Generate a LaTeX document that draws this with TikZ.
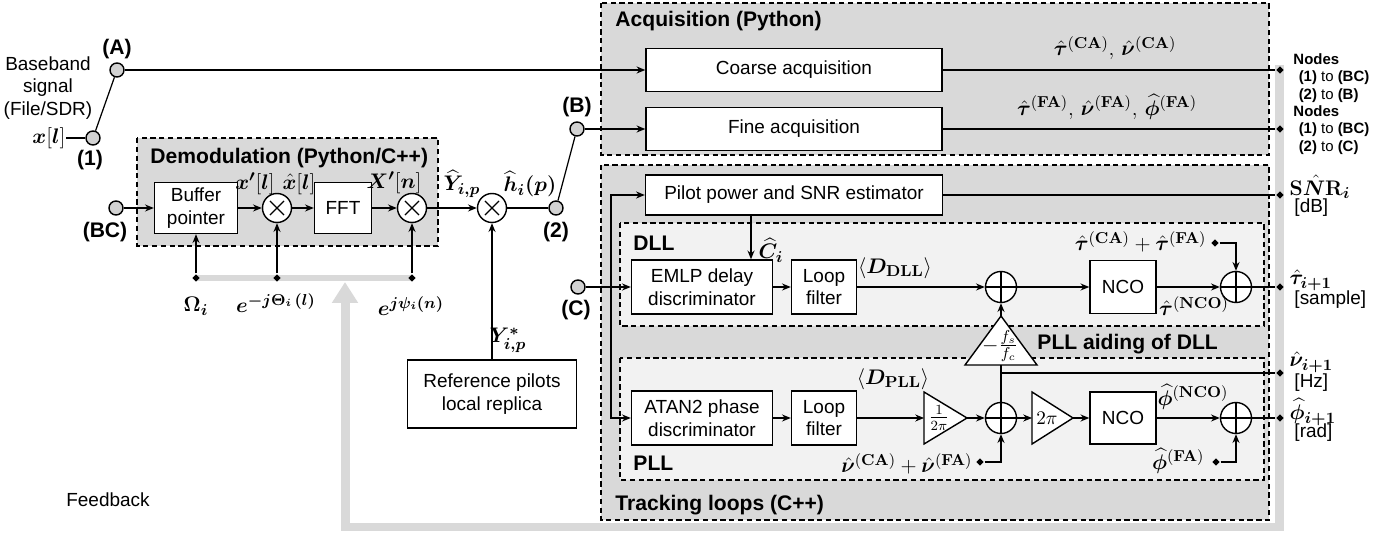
\documentclass[tikz,border=0pt]{standalone}
\usepackage[no-math]{fontspec}
\setmainfont{Liberation Sans}
\usepackage{amsmath}
\usepackage{bm}
\usetikzlibrary{arrows.meta}
\usetikzlibrary{shapes.geometric}

\begin{document}
\begin{tikzpicture}[x=0.02cm, y=-0.02cm,
  font=\fontsize{10.8}{13}\selectfont, line width=0.7pt,
  >={Stealth[length=5pt,width=4pt]},
  blk/.style={draw, fill=white, align=center, inner sep=1pt, line width=0.8pt},
  grp/.style={draw, dash pattern=on 3pt off 2pt, line width=0.6pt},
  port/.style={circle, draw, fill=gray!35, minimum size=0.28cm, inner sep=0pt, line width=0.8pt},
  mult/.style={circle, draw, fill=white, minimum size=0.58cm, inner sep=0pt, line width=0.8pt,
    path picture={\draw[line width=0.7pt]
      ([shift={(-4pt,-4pt)}]path picture bounding box.center) -- ([shift={(4pt,4pt)}]path picture bounding box.center)
      ([shift={(-4pt,4pt)}]path picture bounding box.center) -- ([shift={(4pt,-4pt)}]path picture bounding box.center);}},
  summ/.style={circle, draw, fill=white, minimum size=0.62cm, inner sep=0pt, line width=0.8pt,
    path picture={\draw[line width=0.7pt]
      (path picture bounding box.north) -- (path picture bounding box.south)
      (path picture bounding box.west) -- (path picture bounding box.east);}},
  tip/.style={diamond, fill=black, inner sep=0pt, minimum size=4.5pt},
  lbl/.style={font=\fontsize{12}{14}\selectfont\bfseries},
  mth/.style={font=\fontsize{12.5}{15}\selectfont, inner sep=0pt},
  fb/.style={draw=gray!30, line width=0.18cm}
]
\useasboundingbox (0,0) rectangle (1387,533);

% group boxes
\draw[grp, fill=gray!30] (601,3) rectangle (1269,155);
\draw[grp, fill=gray!30] (601,165) rectangle (1269,520);
\draw[grp, fill=gray!10] (620,223) rectangle (1264,326);
\draw[grp, fill=gray!10] (620,358) rectangle (1264,480);
\draw[grp, fill=gray!30] (137,138) rectangle (438,246);
\node[lbl, anchor=west] (tAcq) at (609,21) {Acquisition (Python)};
\node[lbl, anchor=west] (tTrk) at (609,505) {Tracking loops (C++)};
\node[lbl, anchor=west] (tDll) at (627,243) {DLL};
\node[lbl, anchor=west] (tPll) at (627,463) {PLL};
\node[lbl, anchor=west] (tAid) at (1031,344) {PLL aiding of DLL};
\node[lbl, anchor=west] (tDem) at (144,158) {Demodulation (Python/C++)};

% feedback
\coordinate (fbA) at (1279,65);
\coordinate (fbB) at (1279,527);
\coordinate (fbC) at (345,527);
\coordinate (fbD) at (345,282);
\coordinate (fbL) at (196,278);
\coordinate (fbR) at (412,278);
\draw[fb, -{Triangle[length=0.42cm,width=0.5cm]}] (fbA) -- (fbB) -- (fbC) -- (fbD);
\draw[draw=gray!30, line width=0.12cm] (fbL) -- (fbR);
\node (tFb) at (108,500) {Feedback};

% input switch
\node[align=center] (bb) at (48,88) {Baseband\\signal\\(File/SDR)};
\node[mth, anchor=east] (xl) at (66,138) {$\bm{x}[\bm{l}]$};
\node[port] (n1) at (93,138) {};
\node[lbl] (l1) at (90,160) {(1)};
\node[port] (nA) at (117,70) {};
\node[lbl] (lA) at (117,49) {(A)};

% demodulation
\node[port] (nBC) at (116,208) {};
\node[lbl] (lBC) at (105,232) {(BC)};
\node[blk, minimum width=1.66cm, minimum height=1.02cm] (buf) at (196,208) {Buffer\\pointer};
\node[mult] (m1) at (277,208) {};
\node[blk, minimum width=1.14cm, minimum height=1.02cm] (fft) at (343,208) {FFT};
\node[mult] (m2) at (412,208) {};
\node[mult] (m3) at (492,208) {};
\node[port] (n2) at (556,208) {};
\node[lbl] (l2) at (556,232) {(2)};
\node[port] (nB) at (577,129) {};
\node[lbl] (lB) at (577,107) {(B)};
\node[blk, minimum width=3.38cm, minimum height=1.36cm] (ref) at (492,394) {Reference pilots\\local replica};
\node[tip] (dOm) at (fbL) {};
\node[tip] (dTh) at (277,278) {};
\node[tip] (dPsi) at (fbR) {};

% acquisition
\node[blk, minimum width=5.92cm, minimum height=0.86cm] (coarse) at (794,70) {Coarse acquisition};
\node[blk, minimum width=5.92cm, minimum height=0.86cm] (fine) at (794,129) {Fine acquisition};

% tracking
\node[blk, minimum width=5.94cm, minimum height=0.8cm] (pilot) at (794,195) {Pilot power and SNR estimator};
\node[port] (nC) at (578,287) {};
\node[lbl] (lC) at (576,310) {(C)};
\node[blk, minimum width=2.82cm, minimum height=1.08cm] (emlp) at (702,287) {EMLP delay\\discriminator};
\node[blk, minimum width=1.3cm, minimum height=1.08cm] (lfd) at (824,287) {Loop\\filter};
\node[summ] (sd1) at (1001,287) {};
\node[blk, minimum width=1.32cm, minimum height=1.06cm] (ncod) at (1123,287) {NCO};
\node[summ] (sd2) at (1236,287) {};
\node[blk, minimum width=2.82cm, minimum height=1.08cm] (atan) at (702,418) {ATAN2 phase\\discriminator};
\node[blk, minimum width=1.3cm, minimum height=1.08cm] (lfp) at (824,418) {Loop\\filter};
\node[summ] (sp1) at (1001,418) {};
\node[blk, minimum width=1.32cm, minimum height=1.04cm] (ncop) at (1123,418) {NCO};
\node[summ] (sp2) at (1236,418) {};

% gains
\coordinate (aTop) at (1001,316);
\coordinate (aBase) at (1001,365);
\coordinate (cNu) at (1001,373);
\draw[fill=white, line width=0.8pt] (aTop) -- (1037,365) -- (965,365) -- cycle;
\node[font=\fontsize{13}{15}\selectfont] (gA) at (1000,346) {$-\frac{f_s}{f_c}$};
\coordinate (bIn) at (924,418);
\coordinate (bOut) at (967,418);
\draw[fill=white, line width=0.8pt] (924,392) -- (bOut) -- (924,444) -- cycle;
\node[font=\fontsize{12}{14}\selectfont] (gB) at (939,418) {$\frac{1}{2\pi}$};
\coordinate (cIn) at (1032,418);
\coordinate (cOut) at (1073,418);
\draw[fill=white, line width=0.8pt] (1032,392) -- (cOut) -- (1032,444) -- cycle;
\node[font=\fontsize{10.5}{12}\selectfont] (gC) at (1047,418) {$2\pi$};

% end points
\node[tip] (dCA) at (1280,70) {};
\node[tip] (dFA) at (1280,129) {};
\node[tip] (dSNR) at (1280,195) {};
\node[tip] (dTau) at (1280,287) {};
\node[tip] (dNu) at (1280,373) {};
\node[tip] (dPhi) at (1280,418) {};
\node[tip] (dTauIn) at (1215,243) {};
\node[tip] (dPhiIn) at (1216,462) {};
\node[tip] (dNuIn) at (980,462) {};

% connectors
\draw (xl) -- (n1);
\draw (n1) -- (nA);
\draw[->] (nA) -- (coarse);
\draw (n2) -- (nB);
\draw[->] (nB) -- (fine);
\draw[->] (nBC) -- (buf);
\draw[->] (buf) -- (m1);
\draw[->] (m1) -- (fft);
\draw[->] (fft) -- (m2);
\draw[->] (m2) -- (m3);
\draw (m3) -- (n2);
\draw[->] (ref) -- (m3);
\draw[->] (dOm) -- (buf);
\draw[->] (dTh) -- (m1);
\draw[->] (dPsi) -- (m2);
\draw (coarse) -- (dCA);
\draw (fine) -- (dFA);
\draw (pilot) -- (dSNR);
\coordinate (cSp) at (611,287);
\coordinate (cEst) at (751,0);
\draw[->] (nC) -- (emlp);
\draw[->] (cSp) |- (pilot);
\draw[->] (cSp) |- (atan);
\draw[->] (pilot.south -| cEst) -- (emlp.north -| cEst);
\draw[->] (emlp) -- (lfd);
\draw[->] (lfd) -- (sd1);
\draw[->] (sd1) -- (ncod);
\draw[->] (ncod) -- (sd2);
\draw (sd2) -- (dTau);
\draw[->] (dTauIn) -| (sd2);
\draw[->] (aTop) -- (sd1);
\draw (sp1) -- (aBase);
\draw (cNu) -- (dNu);
\draw[->] (atan) -- (lfp);
\draw[->] (lfp) -- (bIn);
\draw[->] (bOut) -- (sp1);
\draw[->] (sp1) -- (cIn);
\draw[->] (cOut) -- (ncop);
\draw[->] (ncop) -- (sp2);
\draw (sp2) -- (dPhi);
\draw[->] (dPhiIn) -| (sp2);
\draw[->] (dNuIn) -| (sp1);

% signal labels
\node[mth] (lxp) at (255,184) {$\bm{x'}[\bm{l}]$};
\node[mth] (lxh) at (299,184) {$\hat{\bm{x}}[\bm{l}]$};
\node[mth] (lXp) at (394,183) {$\bm{X'}[\bm{n}]$};
\node[mth] (lYh) at (462,184) {$\widehat{\bm{Y}}_{\bm{i,p}}$};
\node[mth] (lhh) at (530,184) {$\widehat{\bm{h}}_{\bm{i}}\bm{(p)}$};
\node[mth] (lYs) at (508,340) {$\bm{Y}^{\bm{*}}_{\bm{i,p}}$};
\node[mth] (lOm) at (196,306) {$\bm{\Omega}_{\bm{i}}$};
\node[mth] (lTh) at (276,303) {$\bm{e}^{\bm{-j\Theta_i}\,\bm{(l)}}$};
\node[mth] (lPsi) at (411,306) {$\bm{e}^{\bm{j\psi_i(n)}}$};
\node[mth] (lCA) at (1115,48) {$\hat{\bm{\tau}}^{(\mathbf{CA})},\,\hat{\bm{\nu}}^{(\mathbf{CA})}$};
\node[mth] (lFA) at (1107,107) {$\hat{\bm{\tau}}^{(\mathbf{FA})},\,\hat{\bm{\nu}}^{(\mathbf{FA})},\,\widehat{\bm{\phi}}^{(\mathbf{FA})}$};
\node[mth] (lC) at (771,250) {$\widehat{\bm{C}}_{\bm{i}}$};
\node[mth] (lDd) at (895,268) {$\langle \bm{D}_{\mathbf{DLL}}\rangle$};
\node[mth] (lDp) at (893,379) {$\langle \bm{D}_{\mathbf{PLL}}\rangle$};
\node[mth, anchor=east] (lTin) at (1207,242) {$\hat{\bm{\tau}}^{(\mathbf{CA})}+\hat{\bm{\tau}}^{(\mathbf{FA})}$};
\node[mth] (lTn) at (1194,306) {$\hat{\bm{\tau}}^{(\mathbf{NCO})}$};
\node[mth] (lPn) at (1193,397) {$\widehat{\bm{\phi}}^{(\mathbf{NCO})}$};
\node[mth, anchor=east] (lPin) at (1205,461) {$\widehat{\bm{\phi}}^{(\mathbf{FA})}$};
\node[mth, anchor=east] (lNin) at (973,464) {$\hat{\bm{\nu}}^{(\mathbf{CA})}+\hat{\bm{\nu}}^{(\mathbf{FA})}$};

% outputs
\node[font=\fontsize{8.5}{9.8}\selectfont, align=left, anchor=west] (oN1) at (1287,78)
  {\textbf{Nodes}\\\hspace*{3pt}\textbf{(1)} to \textbf{(BC)}\\\hspace*{3pt}\textbf{(2)} to \textbf{(B)}};
\node[font=\fontsize{8.5}{9.8}\selectfont, align=left, anchor=west] (oN2) at (1287,130)
  {\textbf{Nodes}\\\hspace*{3pt}\textbf{(1)} to \textbf{(BC)}\\\hspace*{3pt}\textbf{(2)} to \textbf{(C)}};
\node[mth, anchor=west] (oSNR) at (1289,187) {$\mathbf{S}\hat{\bm{N}}\mathbf{R}_{\bm{i}}$};
\node[anchor=west] (uSNR) at (1288,208) {[dB]};
\node[mth, anchor=west] (oTau) at (1289,280) {$\hat{\bm{\tau}}_{\bm{i+1}}$};
\node[anchor=west] (uTau) at (1288,300) {[sample]};
\node[mth, anchor=west] (oNu) at (1289,362) {$\hat{\bm{\nu}}_{\bm{i+1}}$};
\node[anchor=west] (uNu) at (1288,383) {[Hz]};
\node[mth, anchor=west] (oPhi) at (1289,412) {$\widehat{\bm{\phi}}_{\bm{i+1}}$};
\node[anchor=west] (uPhi) at (1288,433) {[rad]};
\end{tikzpicture}
\end{document}
